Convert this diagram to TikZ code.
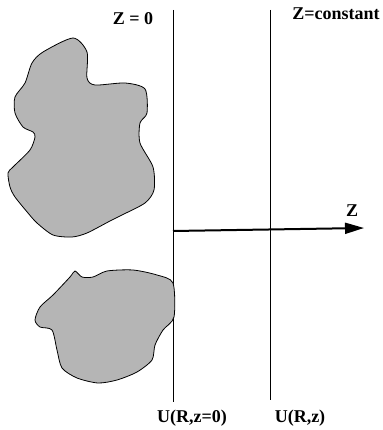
\documentclass[tikz,border=0pt]{standalone}
\usepackage{fontspec}
\setmainfont{Liberation Serif}
\usepackage{xcolor}
\usetikzlibrary{arrows.meta}
\usetikzlibrary{positioning}
\definecolor{blobgray}{gray}{0.71}

\begin{document}
\begin{tikzpicture}[
  x=1pt, y=-1pt,
  every node/.style={font=\fontsize{18}{21}\selectfont\bfseries, inner sep=0pt},
  plane/.style={line width=0.8pt},
  blob/.style={draw, fill=blobgray, line width=0.8pt},
]
\tikzset{>={Triangle[length=19pt, width=11pt]}}
  \useasboundingbox (0,0) rectangle (382,430);

  % Planes
  \coordinate (P0top) at (173,10);
  \coordinate (P0bot) at (173,402);
  \coordinate (P1top) at (270,10);
  \coordinate (P1bot) at (270,400);
  \draw[plane] (P0top) -- (P0bot);
  \draw[plane] (P1top) -- (P1bot);

  % Axis
  \coordinate (Zstart) at (173,231);
  \coordinate (Zend) at (364,228);
  \draw[->, line width=2pt] (Zstart) -- (Zend);

  % Labels
  \node (Lzero)  at (133,19)  {Z = 0};
  \node (Lconst) at (336,14)  {Z=constant};
  \node (Laxis)  at (352,211) {Z};
  \node (Uzero)  at (192,418) {U(R,z=0)};
  \node (Uz)     at (300,418) {U(R,z)};

  % Scatterers
  \draw[blob] plot[smooth cycle, tension=0.45] coordinates {
    (73,38) (87,52) (87,78) (95,85) (125,83) (145,89) (147,113) (140,123)
    (140,143) (153,167) (154,190) (145,203) (122,215) (110,221) (87,233)
    (72,237) (53,235) (37,223) (28,213) (15,197) (10,187) (8,173) (13,167)
    (30,150) (35,137) (33,132) (23,127) (15,113) (15,97) (25,83) (32,63) (43,52)};
  \draw[blob] plot[smooth cycle, tension=0.45] coordinates {
    (75,271) (82,277) (93,277) (107,271) (133,270) (157,275) (173,283)
    (174,317) (163,330) (155,345) (152,360) (137,372) (117,380) (98,383)
    (77,378) (62,368) (57,350) (52,330) (40,327) (35,320) (40,307) (53,295)
    (70,277)};
\end{tikzpicture}
\end{document}
